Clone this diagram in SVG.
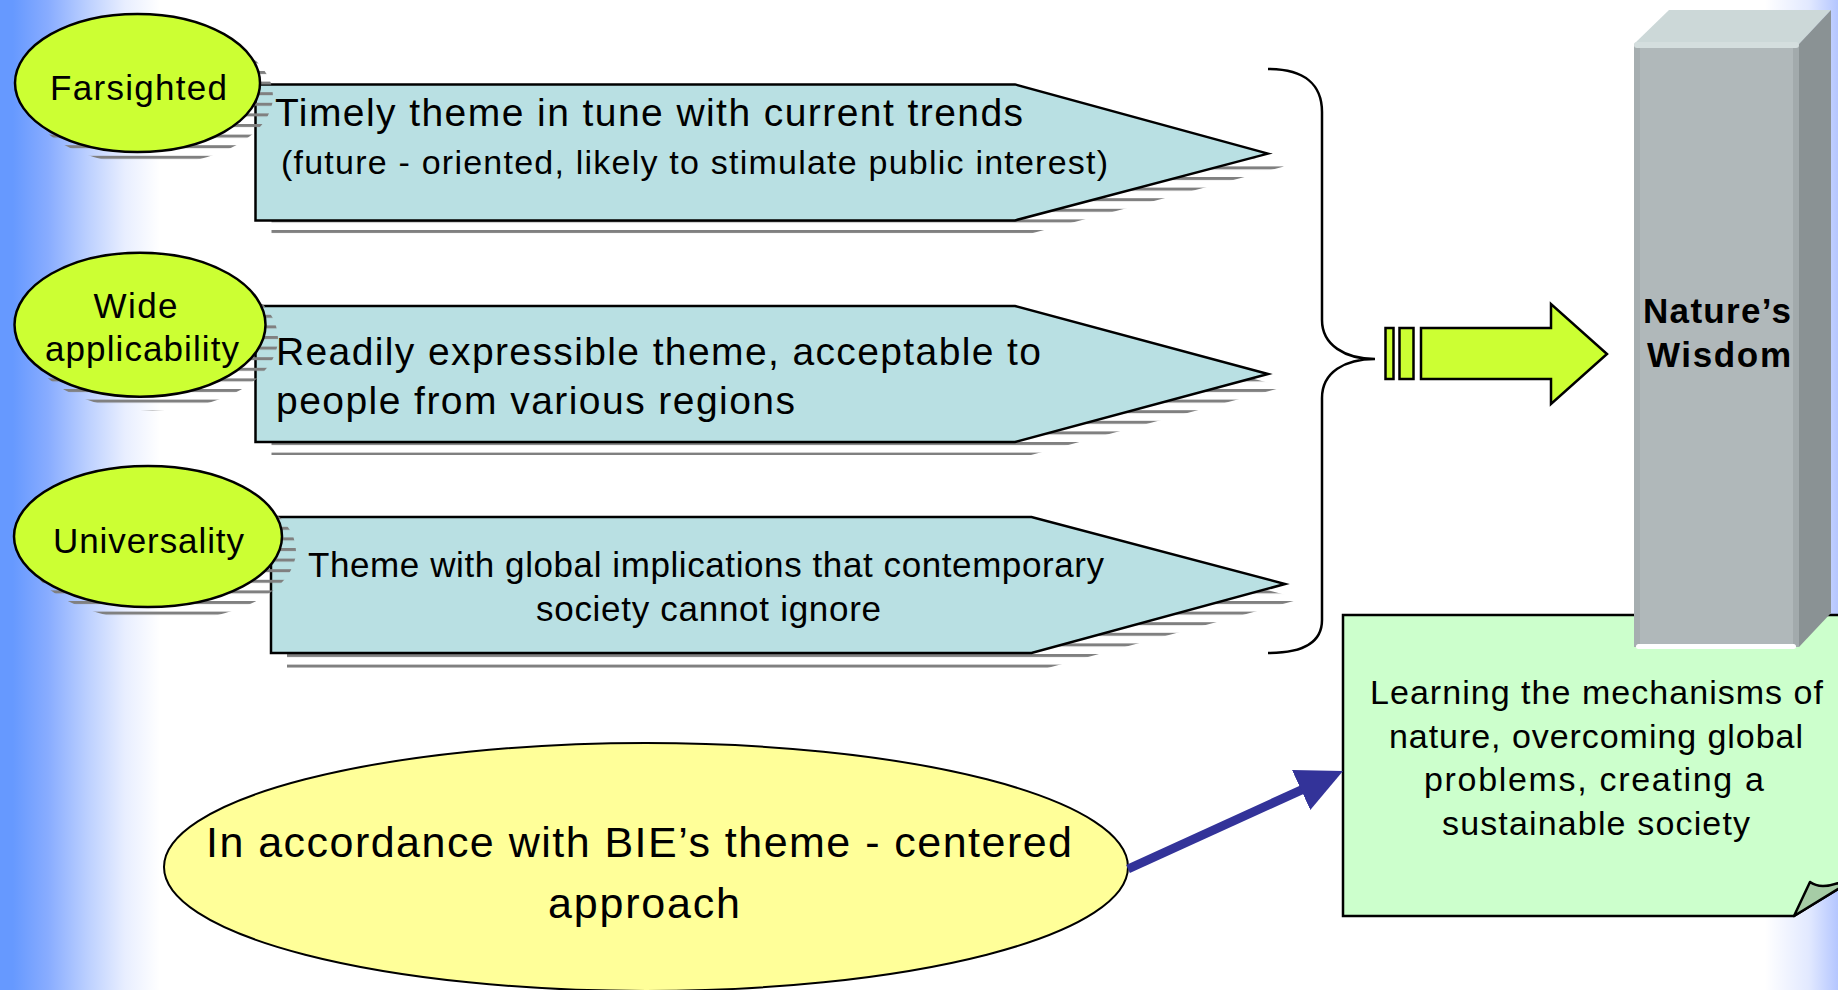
<svg xmlns="http://www.w3.org/2000/svg" width="1838" height="990" viewBox="0 0 1838 990">
<defs>
  <linearGradient id="bgL" gradientUnits="userSpaceOnUse" x1="0" y1="0" x2="160" y2="0">
    <stop offset="0" stop-color="#6699FF"/>
    <stop offset="0.08" stop-color="#6699FF"/>
    <stop offset="0.3" stop-color="#88ACFF"/>
    <stop offset="0.55" stop-color="#BCD0FF"/>
    <stop offset="0.78" stop-color="#E8EEFF"/>
    <stop offset="1" stop-color="#FFFFFF"/>
  </linearGradient>
  <linearGradient id="bgR" gradientUnits="userSpaceOnUse" x1="1765" y1="0" x2="1838" y2="0">
    <stop offset="0" stop-color="#FFFFFF"/>
    <stop offset="0.6" stop-color="#E2E9FF"/>
    <stop offset="1" stop-color="#B4C6FF"/>
  </linearGradient>
  <pattern id="stripes" patternUnits="userSpaceOnUse" x="0" y="7.4" width="40" height="10.6">
    <rect x="0" y="0" width="40" height="3" fill="#808080"/>
  </pattern>
  <marker id="arrowBlue" markerUnits="userSpaceOnUse" markerWidth="46" markerHeight="46" viewBox="0 0 46 46" refX="6" refY="23" orient="auto">
    <path d="M0,1 L46,23 L0,45 Z" fill="#333399"/>
  </marker>
</defs>
<style>
  .pent { fill:#B9E0E3; stroke:#000; stroke-width:2.5; }
  .oval { fill:#CCFF33; stroke:#000; stroke-width:2.5; }
  .shadow { fill:url(#stripes); stroke:none; }
  .t { font-family:"Liberation Sans", Arial, sans-serif; fill:#000; }
  .b { font-weight:bold; }
  .line { fill:none; stroke:#000; stroke-width:2.5; }
</style>

<!-- background -->
<rect x="0" y="0" width="1838" height="990" fill="#FFFFFF"/>
<rect x="0" y="0" width="160" height="990" fill="url(#bgL)"/>
<rect x="1765" y="0" width="73" height="990" fill="url(#bgR)"/>

<!-- theme 1 -->
<g id="theme1">
  <polygon class="shadow" points="271.5,97.4 1031,97.4 1284,166.6 1031,233.4 271.5,233.4"/>
  <polygon class="pent" points="255.5,84.4 1015,84.4 1268,153.6 1015,220.4 255.5,220.4"/>
  <text class="t" x="275" y="126" font-size="39" textLength="748" lengthAdjust="spacing">Timely theme in tune with current trends</text>
  <text class="t" x="281" y="174" font-size="34" textLength="827" lengthAdjust="spacing">(future - oriented, likely to stimulate public interest)</text>
</g>

<!-- theme 2 -->
<g id="theme2">
  <polygon class="shadow" points="271.5,319 1031,319 1284,387 1031,455 271.5,455"/>
  <polygon class="pent" points="255.5,306 1015,306 1268,374 1015,442 255.5,442"/>
  <text class="t" x="276" y="365" font-size="39" textLength="765" lengthAdjust="spacing">Readily expressible theme, acceptable to</text>
  <text class="t" x="276" y="414" font-size="39" textLength="519" lengthAdjust="spacing">people from various regions</text>
</g>

<!-- theme 3 -->
<g id="theme3">
  <polygon class="shadow" points="287,532 1047.5,532 1301,599 1047.5,668 287,668"/>
  <polygon class="pent" points="271,517 1031.5,517 1285,584 1031.5,653 271,653"/>
  <text class="t" x="308" y="577" font-size="35" textLength="796" lengthAdjust="spacing">Theme with global implications that contemporary</text>
  <text class="t" x="536" y="621" font-size="35" textLength="345" lengthAdjust="spacing">society cannot ignore</text>
</g>

<!-- ovals -->
<g id="farsighted">
  <ellipse class="shadow" cx="150.5" cy="96" rx="122.5" ry="69"/>
  <ellipse class="oval" cx="137.5" cy="83" rx="122.5" ry="69"/>
  <text class="t" x="50" y="100" font-size="35" textLength="177" lengthAdjust="spacing">Farsighted</text>
</g>
<g id="wide-applicability">
  <ellipse class="shadow" cx="152.5" cy="338.5" rx="125.5" ry="72"/>
  <ellipse class="oval" cx="140" cy="324.7" rx="125.5" ry="72"/>
  <text class="t" x="93.5" y="318" font-size="35" textLength="84" lengthAdjust="spacing">Wide</text>
  <text class="t" x="45" y="361" font-size="35" textLength="194" lengthAdjust="spacing">applicability</text>
</g>
<g id="universality">
  <ellipse class="shadow" cx="162" cy="551" rx="134" ry="70.5"/>
  <ellipse class="oval" cx="148" cy="536.5" rx="134" ry="70.5"/>
  <text class="t" x="53" y="553" font-size="35" textLength="191" lengthAdjust="spacing">Universality</text>
</g>

<!-- note -->
<g id="note">
  <path d="M1343,615 L1846,615 L1846,884 L1794,916 L1343,916 Z" fill="#CCFFCC" stroke="#000" stroke-width="2.5"/>
  <path d="M1794,916 L1810,882 C1818,888 1830,887 1846,880 L1846,884 Z" fill="#A6CCA6" stroke="#000" stroke-width="2.5" stroke-linejoin="round"/>
  <text class="t" x="1370" y="704" font-size="34" textLength="453" lengthAdjust="spacing">Learning the mechanisms of</text>
  <text class="t" x="1389" y="748" font-size="34" textLength="414" lengthAdjust="spacing">nature, overcoming global</text>
  <text class="t" x="1424" y="791" font-size="34" textLength="340" lengthAdjust="spacing">problems, creating a</text>
  <text class="t" x="1442" y="835" font-size="34" textLength="308" lengthAdjust="spacing">sustainable society</text>
</g>

<!-- column -->
<g id="natures-wisdom">
  <polygon points="1634,44 1669,10 1831,10 1799,44" fill="#CCD8D8"/>
  <polygon points="1799,44 1831,10 1831,613 1799,647" fill="#8A9294"/>
  <rect x="1634" y="44" width="165" height="603" fill="#B0B8BA"/>
  <rect x="1634" y="44" width="6" height="603" fill="#A6AEB0"/>
  <rect x="1793" y="44" width="6" height="603" fill="#A2AAAC"/>
  <rect x="1634" y="42" width="165" height="6" rx="3" fill="#D4DEDE"/>
  <rect x="1636" y="644" width="160" height="5" rx="2.5" fill="#FFFFFF"/>
  <text class="t b" x="1643" y="323" font-size="35" textLength="148" lengthAdjust="spacing">Nature’s</text>
  <text class="t b" x="1647" y="367" font-size="35" textLength="144" lengthAdjust="spacing">Wisdom</text>
</g>

<!-- approach -->
<g id="bie-approach">
  <ellipse cx="646" cy="867" rx="482" ry="124" fill="#FFFF99" stroke="#000" stroke-width="2"/>
  <text class="t" x="206" y="857" font-size="43" textLength="866" lengthAdjust="spacing">In accordance with BIE’s theme - centered</text>
  <text class="t" x="548" y="918" font-size="43" textLength="192" lengthAdjust="spacing">approach</text>
</g>

<!-- connectors -->
<g id="connectors">
  <path class="line" d="M1268,69 C1305,69 1322,85 1322,112 L1322,320 C1322,345 1345,359 1375,359 C1345,359 1322,372 1322,398 L1322,620 C1322,642 1305,653 1268,653"/>
  <g id="green-arrow" fill="#CCFF33" stroke="#000" stroke-width="2.5">
    <rect x="1385.5" y="328" width="8" height="51"/>
    <rect x="1399.5" y="328" width="14" height="51"/>
    <polygon points="1421,328 1551,328 1551,304 1607,354 1551,404 1551,379 1421,379"/>
  </g>
  <line x1="1128" y1="869" x2="1306.6" y2="787.6" stroke="#333399" stroke-width="9" marker-end="url(#arrowBlue)"/>
</g>
</svg>
